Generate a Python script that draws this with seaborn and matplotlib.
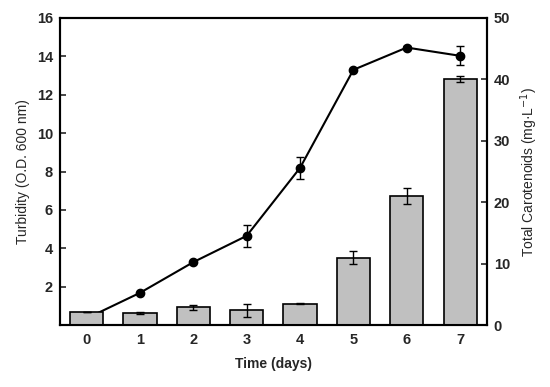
import numpy as np
import pandas as pd
import matplotlib
matplotlib.use("Agg")
import matplotlib.pyplot as plt
import seaborn as sns

days = [0, 1, 2, 3, 4, 5, 6, 7]
day_labels = ["0", "1", "2", "3", "4", "5", "6", "7"]

# turbidity (left axis, line)
turbidity = [0.35, 1.68, 3.28, 4.65, 8.19, 13.3, 14.46, 14.03]
turbidity_err = [0.0, 0.0, 0.0, 0.59, 0.57, 0.0, 0.1, 0.5]

# total carotenoids (right axis, bars)
carotenoids = [2.07, 2.0, 2.9, 2.4, 3.5, 11.0, 20.95, 40.1]
carotenoids_err = [0.0, 0.2, 0.38, 1.1, 0.1, 1.1, 1.3, 0.5]

sns.set_style("ticks")
plt.rcParams["font.family"] = ["Liberation Sans", "DejaVu Sans"]

fig = plt.figure(figsize=(5.5, 3.87), dpi=100)
ax = fig.add_axes([0.109, 0.16, 0.776, 0.7935])
ax2 = ax.twinx()

# line (drawn behind bars since twin axes sit on top)
ax.errorbar(days, turbidity, yerr=turbidity_err, color="black", lw=1.5,
            marker="o", markersize=6, capsize=2.6, elinewidth=1, capthick=1)

df = pd.DataFrame({"day": day_labels, "car": carotenoids})
sns.barplot(data=df, x="day", y="car", ax=ax2, color="#c0c0c0",
            edgecolor="black", linewidth=1.2, width=0.62, saturation=1)
ax2.errorbar(range(len(days)), carotenoids, yerr=carotenoids_err, fmt="none",
             ecolor="black", elinewidth=1, capsize=3.2, capthick=1)

ax.set_xlim(-0.5, 7.5)
ax.set_ylim(0, 16)
ax2.set_ylim(0, 50)
ax.set_yticks([2, 4, 6, 8, 10, 12, 14, 16])
ax2.set_yticks([0, 10, 20, 30, 40, 50])
ax.set_xticks(days)
ax.set_xticklabels(day_labels)
ax2.set_xlabel("")

for a in (ax, ax2):
    for s in a.spines.values():
        s.set_visible(True)
        s.set_color("black")
        s.set_linewidth(1.5)
    a.tick_params(axis="y", direction="in", length=4, width=1.2,
                  labelsize=10.5, pad=5)
    for t in a.get_yticklabels():
        t.set_fontweight("bold")
ax.tick_params(axis="x", length=0, labelsize=10.5, pad=6)
for t in ax.get_xticklabels():
    t.set_fontweight("bold")
ax2.tick_params(axis="x", length=0)

ax.set_xlabel("Time (days)", fontsize=10, fontweight="bold", labelpad=7)
ax.set_ylabel("Turbidity (O.D. 600 nm)", fontsize=10, labelpad=5)
ax2.set_ylabel("Total Carotenoids (mg\u00b7L$^{-1}$)", fontsize=10, labelpad=6)

fig.savefig("out.png", dpi=100)
